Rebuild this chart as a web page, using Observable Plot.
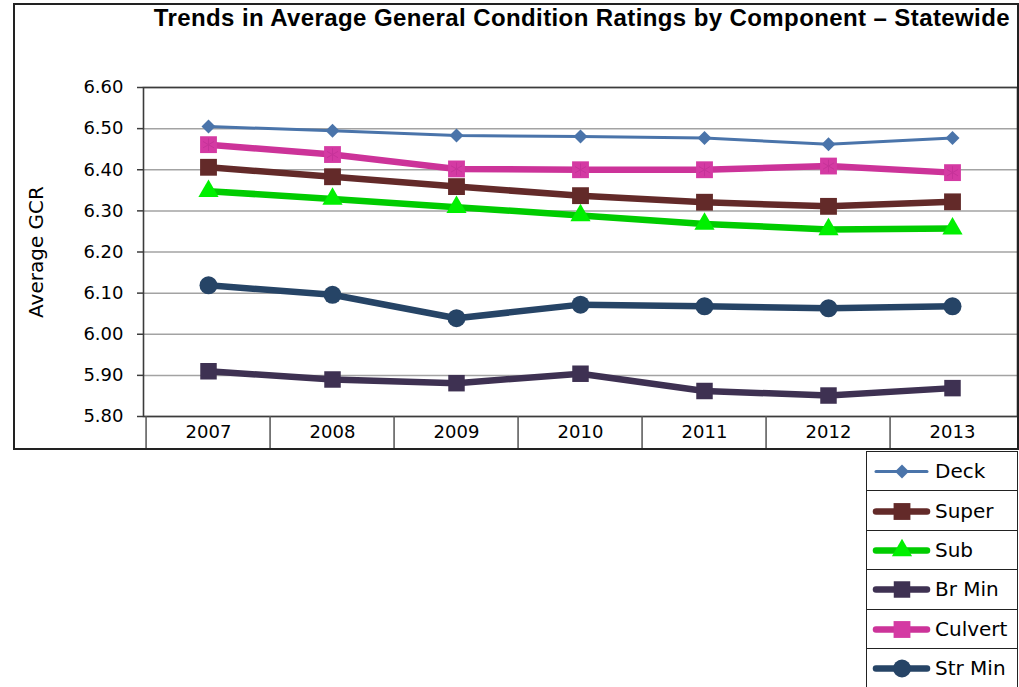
<!DOCTYPE html>
<html>
<head>
<meta charset="utf-8">
<script src="https://cdn.jsdelivr.net/npm/d3@7"></script>
<script src="https://cdn.jsdelivr.net/npm/@observablehq/plot@0.6"></script>
<style>
  body { margin: 0; background: #fff; }
  #wrap { position: relative; width: 1019px; height: 687px; overflow: hidden; background: #fff; }
  #chart { position: absolute; left: 0; top: 0; }
  #title { position: absolute; right: 9px; top: 4px; font: bold 24px "Liberation Sans", Arial, sans-serif; letter-spacing: 0.4px; color: #000; white-space: nowrap; }
  #border { position: absolute; left: 13px; top: 3px; width: 1006px; height: 447px; border: 2px solid #222; box-sizing: border-box; pointer-events: none; }
  #legend { position: absolute; left: 866px; top: 451px; width: 152px; border: 1px solid #222; border-bottom: none; box-sizing: border-box; background: #fff; }
  .row { height: 39.4px; border-bottom: 1px solid #222; box-sizing: border-box; display: flex; align-items: center; }
  .row svg { display: block; }
  .lab { font: 20px "DejaVu Sans", sans-serif; color: #000; margin-left: 2px; white-space: nowrap; }
</style>
</head>
<body>
<div id="wrap">
  <div id="chart"></div>
  <div id="title">Trends in Average General Condition Ratings by Component – Statewide</div>
  <div id="border"></div>
  <div id="legend"></div>
</div>
<script>
// ---- Data ----
const years = ["2007", "2008", "2009", "2010", "2011", "2012", "2013"];
const seriesNames = ["Deck", "Super", "Sub", "Br Min", "Culvert", "Str Min"];
const deck    = [6.505, 6.495, 6.483, 6.481, 6.477, 6.462, 6.477];
const superS  = [6.406, 6.383, 6.359, 6.337, 6.321, 6.311, 6.322];
const sub     = [6.348, 6.329, 6.309, 6.289, 6.268, 6.255, 6.257];
const brMin   = [5.910, 5.890, 5.881, 5.904, 5.862, 5.851, 5.869];
const culvert = [6.461, 6.437, 6.402, 6.400, 6.400, 6.409, 6.393];
const strMin  = [6.119, 6.096, 6.039, 6.072, 6.068, 6.063, 6.068];
const yTicks  = [5.80, 5.90, 6.00, 6.10, 6.20, 6.30, 6.40, 6.50, 6.60];
const yLabel = "Average GCR";

const seriesValues = [deck, superS, sub, brMin, culvert, strMin];

// ---- Styles ----
const styles = {
  "Deck":    {stroke: "#4a74aa", fill: "#4a74aa", width: 3, symbol: "diamond2", r: 6.3},
  "Super":   {stroke: "#632a29", fill: "#632a29", width: 6.5, symbol: "square", r: 9.5},
  "Sub":     {stroke: "#00cc00", fill: "#00f000", width: 6.5, symbol: "triangle", r: 7.5},
  "Br Min":  {stroke: "#3e3152", fill: "#3e3152", width: 6.5, symbol: "square", r: 9.3},
  "Culvert": {stroke: "#cc3399", fill: "#d43aa3", width: 6.5, symbol: "square", r: 9.5},
  "Str Min": {stroke: "#264466", fill: "#264466", width: 6.5, symbol: "circle", r: 9}
};

const rows = [];
seriesNames.forEach((s, i) => years.forEach((y, j) => rows.push({series: s, year: y, value: seriesValues[i][j]})));

const W = 1019, ML = 143, MR = 2;
const step = (W - ML - MR) / years.length;

const marks = [
  Plot.gridY(yTicks, {stroke: "#a3a3a3", strokeOpacity: 1, strokeWidth: 1.5}),
  Plot.frame({stroke: "#3c3c3c", strokeWidth: 1.6}),
  Plot.axisY(yTicks, {tickSize: 6, tickPadding: 14, tickFormat: d3.format(".2f"), fontSize: 18, stroke: "#3c3c3c", strokeWidth: 1.5, label: null}),
  Plot.axisX({tickSize: 0, tickPadding: 9, fontSize: 18, label: null}),
  Plot.axisX({tickSize: 32, tickFormat: () => "", dx: -step / 2, stroke: "#555", strokeWidth: 1.5, label: null}),
  Plot.text([yLabel], {frameAnchor: "left", textAnchor: "middle", dx: -107, rotate: -90, fontSize: 20, fill: "#000"})
];
for (const s of seriesNames) {
  const st = styles[s];
  const d = rows.filter(r => r.series === s);
  marks.push(Plot.line(d, {x: "year", y: "value", stroke: st.stroke, strokeWidth: st.width, strokeLinejoin: "round"}));
}
for (const s of seriesNames) {
  const st = styles[s];
  const d = rows.filter(r => r.series === s);
  marks.push(Plot.dot(d, {x: "year", y: "value", symbol: () => st.symbol, r: st.r, fill: st.fill, stroke: "none"}));
  if (s === "Culvert") marks.push(Plot.dot(d, {x: "year", y: "value", symbol: "asterisk", r: 6, stroke: "#c63299", strokeWidth: 1}));
}

const chart = Plot.plot({
  width: W, height: 450,
  marginLeft: ML, marginRight: MR, marginTop: 87, marginBottom: 34,
  style: {fontFamily: "DejaVu Sans, sans-serif", fontSize: "18px", color: "#000", background: "transparent"},
  x: {type: "band", domain: years, padding: 0},
  y: {domain: [5.80, 6.60]},
  symbol: {type: "identity"},
  marks
});
document.getElementById("chart").appendChild(chart);

// ---- Legend ----
const legend = document.getElementById("legend");
for (const s of seriesNames) {
  const st = styles[s];
  const row = document.createElement("div");
  row.className = "row";
  const sw = Plot.plot({
    width: 66, height: 38, marginLeft: 9, marginRight: 6, marginTop: 0, marginBottom: 0,
    x: {domain: [0, 1], axis: null}, y: {domain: [-1, 1], axis: null},
    symbol: {type: "identity"},
    style: {background: "transparent"},
    marks: [
      Plot.ruleY([0], {stroke: st.stroke, strokeWidth: st.width, strokeLinecap: "round"}),
      Plot.dot([s], {x: () => 0.5, y: () => 0, symbol: () => st.symbol, r: st.r, fill: st.fill, stroke: "none"})
    ]
  });
  row.appendChild(sw);
  const lab = document.createElement("span");
  lab.className = "lab";
  lab.textContent = s;
  row.appendChild(lab);
  legend.appendChild(row);
}
</script>
</body>
</html>
